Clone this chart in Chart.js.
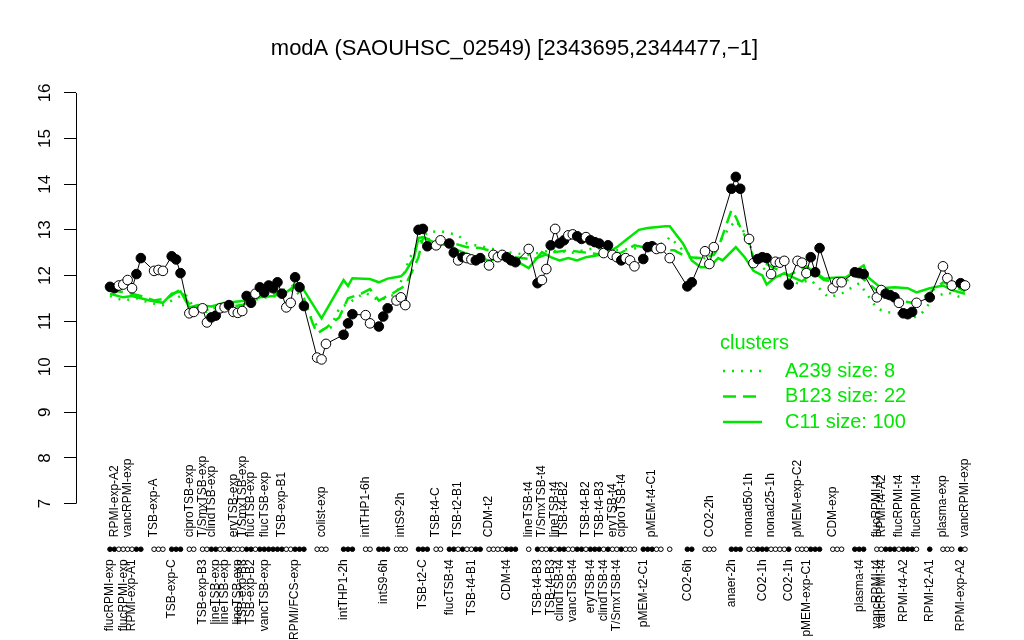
<!DOCTYPE html>
<html>
<head>
<meta charset="utf-8">
<title>modA (SAOUHSC_02549)</title>
<script src="https://cdn.jsdelivr.net/npm/chart.js@4.4.1/dist/chart.umd.min.js"></script>
<style>
  html, body { margin: 0; padding: 0; background: #fff; }
  canvas { display: block; }
</style>
</head>
<body>
<canvas id="Chart" width="1024" height="640"></canvas>
<script>

const green = '#00e600'
const fontFam = '"Liberation Sans", Arial, Helvetica, sans-serif'

// expression per sample slot, null = space between condition groups
const expr = [
  11.75, 11.72, 11.78, 11.8, 11.9, 11.72, 12.03, 12.38, null, null,
  12.1, 12.12, 12.1, null, 12.42, 12.35, 12.05, null, 11.17, 11.2,
  null, 11.28, 10.97, 11.08, 11.12, 11.28, 11.3, 11.35, 11.2, 11.18,
  11.22, 11.55, 11.4, 11.6, 11.74, 11.63, 11.78, 11.72, 11.85, 11.6,
  11.3, 11.4, 11.96, 11.74, 11.33, null, null, 10.2, 10.16, 10.5,
  null, null, null, 10.7, 10.95, 11.15, null, null, 11.13, 10.95,
  null, 10.88, 11.1, 11.28, null, 11.45, 11.52, 11.35, null, null,
  13.0, 13.02, 12.64, null, 12.66, 12.77, null, 12.7, 12.5, 12.33,
  12.4, 12.38, 12.35, 12.33, 12.38, null, 12.22, 12.45, 12.4, 12.45,
  12.4, 12.33, 12.29, null, null, 12.58, null, 11.83, 11.9, 12.14,
  12.66, 13.02, 12.7, 12.77, 12.88, 12.9, 12.86, 12.8, 12.84, 12.77,
  12.73, 12.7, 12.49, 12.66, 12.45, 12.4, 12.33, 12.38, 12.33, 12.2,
  null, 12.36, 12.62, 12.64, 12.58, 12.6, null, 12.38, null, null,
  null, 11.76, 11.85, null, null, 12.53, 12.25, 12.62, null, null,
  null, 13.9, 14.16, 13.9, null, 12.8, 12.27, 12.36, 12.4, 12.38,
  12.03, 12.3, 12.28, 12.32, 11.8, null, 12.32, 12.28, 12.05, 12.4,
  12.07, 12.6, null, null, 11.72, 11.85, 11.85, null, null, 12.07,
  12.05, 12.03, null, null, 11.52, 11.68, 11.6, 11.57, 11.52, 11.4,
  11.17, 11.15, 11.2, 11.4, null, null, 11.52, null, null, 12.2,
  11.94, 11.78, null, 11.83, 11.78
]

// 1 = filled marker, 0 = open marker
const filled = [
  1, 1, 0, 0, 0, 0, 1, 1, null, null,
  0, 0, 0, null, 1, 1, 1, null, 0, 0,
  null, 0, 0, 1, 1, 0, 0, 1, 0, 0,
  0, 1, 1, 0, 1, 1, 1, 1, 1, 1,
  0, 0, 1, 1, 1, null, null, 0, 0, 0,
  null, null, null, 1, 1, 1, null, null, 0, 0,
  null, 1, 1, 1, null, 0, 0, 0, null, null,
  1, 1, 1, null, 0, 0, null, 1, 1, 0,
  1, 0, 0, 1, 1, null, 0, 0, 0, 0,
  1, 1, 1, null, null, 0, null, 1, 0, 0,
  1, 0, 1, 1, 0, 0, 1, 1, 0, 1,
  1, 1, 0, 1, 0, 0, 1, 0, 0, 0,
  null, 1, 1, 1, 0, 0, null, 0, null, null,
  null, 1, 1, null, null, 0, 0, 0, null, null,
  null, 1, 1, 1, null, 0, 0, 1, 1, 1,
  0, 0, 0, 0, 1, null, 0, 0, 0, 1,
  1, 1, null, null, 0, 0, 0, null, null, 1,
  1, 1, null, null, 0, 0, 1, 1, 1, 0,
  1, 1, 1, 0, null, null, 1, null, null, 0,
  0, 0, null, 1, 0
]

// sample names written above / below the marker strip
const topSlots = [1, 4, 10, 18, 21, 23, 28, 30, 32, 35, 39, 48, 58, 66, 74, 79, 86,
  95, 98, 101, 103, 108, 111, 114, 116, 123, 136, 145, 150, 156, 164, 174, 175, 179, 183, 189, 194]
const topNames = ['RPMI-exp-A2', 'vancRPMI-exp', 'TSB-exp-A', 'ciproTSB-exp', 'T/SmxTSB-exp',
  'clindTSB-exp', 'eryTSB-exp', 'T/SmxTSB-exp', 'flucTSB-exp', 'flucTSB-exp', 'TSB-exp-B1',
  'colist-exp', 'intTHP1-6h', 'intS9-2h', 'TSB-t4-C', 'TSB-t2-B1', 'CDM-t2',
  'lineTSB-t4', 'T/SmxTSB-t4', 'lineTSB-t4', 'TSB-t4-B2', 'TSB-t4-B2', 'TSB-t4-B3', 'eryTSB-t4',
  'ciproTSB-t4', 'pMEM-t4-C1', 'CO2-2h', 'nonad50-1h', 'nonad25-1h', 'pMEM-exp-C2', 'CDM-exp',
  'flucRPMI-t4', 'RPMI-t4-A2', 'flucRPMI-t4', 'flucRPMI-t4', 'plasma-exp', 'vancRPMI-exp']

const bottomSlots = [0, 3, 5, 14, 21, 24, 26, 29, 30, 32, 35, 42, 53, 62, 71, 77, 82, 90,
  97, 100, 102, 105, 109, 112, 115, 121, 131, 141, 148, 154, 158, 170, 174, 175, 180, 186, 193]
const bottomNames = ['flucRPMI-exp', 'flucRPMI-exp', 'RPMI-exp-A1', 'TSB-exp-C', 'TSB-exp-B3',
  'lineTSB-exp', 'lineTSB-exp', 'lineTSB-exp', 'TSB-exp-B3', 'TSB-exp-B2', 'vancTSB-exp',
  'RPMI/FCS-exp', 'intTHP1-2h', 'intS9-6h', 'TSB-t2-C', 'flucTSB-t4', 'TSB-t4-B1', 'CDM-t4',
  'TSB-t4-B3', 'TSB-t4-B3', 'clindTSB-t4', 'vancTSB-t4', 'eryTSB-t4', 'clindTSB-t4', 'T/SmxTSB-t4',
  'pMEM-t2-C1', 'CO2-6h', 'anaer-2h', 'CO2-1h', 'CO2-1h', 'pMEM-exp-C1', 'plasma-t4',
  'vancRPMI-t4', 'vancRPMI-t4', 'RPMI-t4-A2', 'RPMI-t2-A1', 'RPMI-exp-A2']

const yTicks = [7, 8, 9, 10, 11, 12, 13, 14, 15, 16]

// cluster mean profiles
const clusterNames = ['A239', 'B123', 'C11']
const clusterSizes = [8, 22, 100]

const a239Slots = [0, 3, 6, 9, 12, 15, 17, 19, 22, 25, 28, 31, 34, 38, 42, 44, 46, 48, 50, 52,
  54, 56, 58, 61, 63, 65, 68, 69, 72, 75, 79, 81, 86, 90, 95, 100, 105, 110, 115, 120,
  124, 126, 127, 130, 134, 137, 139, 141, 142, 145, 146, 149, 153, 156, 159, 163, 166, 170,
  174, 176, 179, 182, 184, 187, 190, 193, 194]
const a239 = [11.55, 11.45, 11.5, 11.4, 11.35, 11.5, 11.6, 11.3, 11.2, 11.35, 11.3, 11.4, 11.5, 11.55, 11.7, 11.4, 11.0, 10.8, 10.85, 11.28,
  11.38, 11.52, 11.62, 11.45, 11.52, 11.6, 12.38, 12.55, 12.95, 12.97, 12.88, 12.7, 12.6, 12.51, 12.45, 12.55, 12.5, 12.6, 12.55, 12.6,
  12.65, 12.73, 12.84, 12.55, 12.33, 12.5, 12.84, 13.1, 13.2, 12.8, 12.33, 12.1, 11.96, 11.83, 11.9, 11.52, 11.6, 11.83,
  11.28, 11.2, 11.17, 11.06, 11.15, 11.52, 11.63, 11.52, 11.55]

const b123Slots = [0, 4, 7, 10, 13, 16, 18, 22, 26, 30, 34, 38, 42, 44, 46, 47, 49, 52, 54, 57,
  59, 61, 64, 67, 69, 70, 71, 74, 77, 81, 84, 88, 92, 96, 100, 104, 108, 112, 116, 119,
  122, 125, 128, 131, 134, 137, 138, 141, 142, 143, 145, 146, 150, 154, 158, 162, 166, 170,
  173, 176, 179, 182, 185, 189, 192, 194]
const b123 = [11.68, 11.62, 11.55, 11.45, 11.5, 11.7, 11.35, 11.25, 11.3, 11.35, 11.55, 11.62, 11.8, 11.5, 10.95, 10.73, 10.85, 11.08, 11.5, 11.6,
  11.7, 11.45, 11.6, 11.78, 12.18, 12.4, 12.82, 12.77, 12.73, 12.62, 12.6, 12.5, 12.4, 12.35, 12.5, 12.55, 12.5, 12.45, 12.5, 12.66,
  12.6, 12.55, 12.55, 12.4, 12.38, 12.45, 12.6, 13.43, 13.28, 13.06, 12.7, 12.4, 12.2, 12.0, 12.2, 11.9, 11.85, 12.0,
  11.75, 11.5, 11.45, 11.4, 11.55, 11.85, 11.75, 11.65]

const c11Slots = [0, 3, 5, 7, 9, 12, 14, 16, 18, 20, 23, 26, 28, 31, 34, 37, 40, 42, 43, 48,
  53, 54, 55, 59, 61, 63, 66, 67, 69, 70, 71, 74, 77, 79, 83, 86, 89, 92, 95, 98,
  100, 102, 104, 106, 108, 111, 113, 115, 117, 120, 122, 126, 127, 130, 132, 134, 136, 138, 139,
  142, 144, 146, 148, 149, 151, 153, 154, 157, 158, 160, 162, 164, 167, 171, 172, 175, 178,
  181, 183, 186, 189, 191, 194]
const c11 = [11.6, 11.52, 11.55, 11.5, 11.45, 11.4, 11.6, 11.65, 11.3, 11.35, 11.32, 11.4, 11.42, 11.45, 11.52, 11.55, 11.63, 11.78, 11.83, 11.06,
  11.9, 11.77, 11.94, 11.92, 11.85, 11.93, 11.98, 12.07, 12.4, 12.82, 12.84, 12.7, 12.66, 12.55, 12.4, 12.33, 12.38, 12.33, 12.16, 12.51,
  12.4, 12.33, 12.38, 12.33, 12.4, 12.45, 12.5, 12.62, 12.77, 13.0, 13.04, 13.08, 13.08, 12.7, 12.33, 12.18, 12.18, 12.38, 12.33,
  12.62, 12.4, 12.1, 12.0, 11.8, 11.96, 12.05, 12.0, 11.87, 11.95, 12.07, 11.93, 11.95, 11.96, 12.22, 11.96, 11.72, 11.74,
  11.72, 11.63, 11.72, 11.78, 11.68, 11.6]

// axis ranges so that 7..16 sit where the R plot put them
const yMin = 4.138, yMax = 16.283
const xMin = -7.715, xMax = 201.94
const stripLevel = 6

let points = [], pointFill = [], strip = []
expr.forEach(function (v, i) {
  if (v === null) return
  points.push({x: i, y: v})
  strip.push({x: i, y: stripLevel})
  pointFill.push(filled[i] ? '#000' : '#fff')
})

function profile (slots, vals) {
  return slots.map(function (s, i) { return {x: s, y: vals[i]} })
}

const dashes = [[2, 7], [13, 7], []]

const extras = {
  id: 'extras',
  afterDatasetsDraw (chart) {
    const ctx = chart.ctx
    const xs = chart.scales.x, ys = chart.scales.y
    const left = chart.chartArea.left
    ctx.save()

    // y axis line from 7 to 16 only, with vertical tick labels like R
    ctx.strokeStyle = '#000'
    ctx.lineWidth = 1
    ctx.beginPath()
    ctx.moveTo(left + 0.5, ys.getPixelForValue(yTicks[0]))
    ctx.lineTo(left + 0.5, ys.getPixelForValue(yTicks[yTicks.length - 1]))
    ctx.stroke()

    ctx.fillStyle = '#000'
    ctx.font = '17px ' + fontFam
    ctx.textAlign = 'center'
    ctx.textBaseline = 'middle'
    yTicks.forEach(function (v) {
      ctx.save()
      ctx.translate(left - 31, ys.getPixelForValue(v))
      ctx.rotate(-Math.PI / 2)
      ctx.fillText(String(v), 0, 0)
      ctx.restore()
    })

    // rotated sample names: top ones start at the strip, bottom ones end at it
    const yStrip = ys.getPixelForValue(stripLevel)
    ctx.font = '12px ' + fontFam
    function names (slots, txt, yAnchor, align) {
      ctx.textAlign = align
      slots.forEach(function (s, i) {
        ctx.save()
        ctx.translate(xs.getPixelForValue(s), yAnchor)
        ctx.rotate(-Math.PI / 2)
        ctx.fillText(txt[i], 0, 0)
        ctx.restore()
      })
    }
    names(topSlots, topNames, yStrip - 12, 'left')
    names(bottomSlots, bottomNames, yStrip + 10, 'right')

    // cluster legend
    ctx.fillStyle = green
    ctx.strokeStyle = green
    ctx.font = '20px ' + fontFam
    ctx.textAlign = 'left'
    ctx.fillText('clusters', 720, 343)
    clusterNames.forEach(function (n, i) {
      const ly = 371 + i * 25.5
      ctx.lineWidth = 2.5
      ctx.setLineDash(dashes[i])
      ctx.beginPath()
      ctx.moveTo(723, ly)
      ctx.lineTo(762, ly)
      ctx.stroke()
      ctx.setLineDash([])
      ctx.fillText(n + ' size: ' + clusterSizes[i], 785, ly)
    })
    ctx.restore()
  }
}

let ctx = document.getElementById('Chart').getContext('2d')
let myChart = new Chart(ctx, {
  type: 'line',
  data: {
    datasets: [{
      data: points,
      borderColor: '#000',
      borderWidth: 1,
      pointRadius: 4.8,
      pointBackgroundColor: pointFill,
      pointBorderColor: '#000',
      pointBorderWidth: 1,
      order: 0
    }, {
      data: strip,
      showLine: false,
      pointRadius: 2.3,
      pointBackgroundColor: pointFill,
      pointBorderColor: '#000',
      pointBorderWidth: 1,
      order: 1
    }, {
      data: profile(a239Slots, a239),
      borderColor: green,
      borderWidth: 2.5,
      borderDash: dashes[0],
      pointRadius: 0,
      order: 2
    }, {
      data: profile(b123Slots, b123),
      borderColor: green,
      borderWidth: 2.5,
      borderDash: dashes[1],
      pointRadius: 0,
      order: 3
    }, {
      data: profile(c11Slots, c11),
      borderColor: green,
      borderWidth: 2.5,
      pointRadius: 0,
      order: 4
    }]
  },
  options: {
    responsive: false,
    animation: false,
    layout: { padding: { left: 29, right: 24, top: 0, bottom: 4 } },
    scales: {
      x: { type: 'linear', min: xMin, max: xMax, display: false },
      y: {
        type: 'linear',
        min: yMin,
        max: yMax,
        afterBuildTicks: function (s) { s.ticks = yTicks.map(function (v) { return {value: v} }) },
        afterFit: function (s) { s.width = 47 },
        border: { display: false },
        grid: { drawOnChartArea: false, drawTicks: true, tickLength: 12, color: '#000', tickColor: '#000' },
        ticks: { display: false }
      }
    },
    plugins: {
      legend: { display: false },
      tooltip: { enabled: false },
      title: {
        display: true,
        text: 'modA (SAOUHSC_02549) [2343695,2344477,\u22121]',
        color: '#000',
        font: { family: fontFam, size: 22, weight: 'normal' },
        padding: { top: 36, bottom: 17.6 }
      }
    }
  },
  plugins: [extras]
})
</script>
</body>
</html>
